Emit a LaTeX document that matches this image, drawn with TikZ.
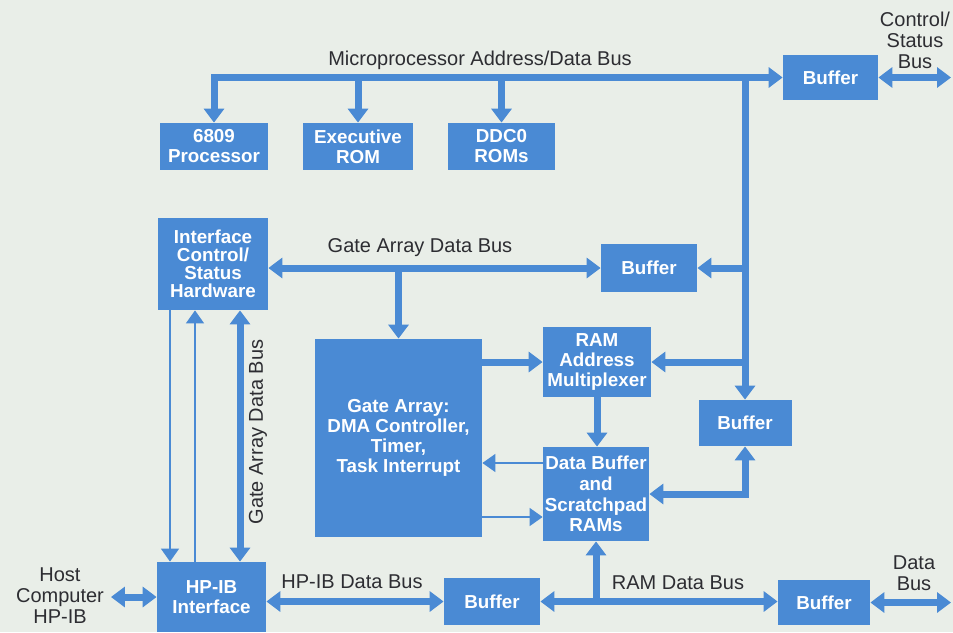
\documentclass[tikz,border=0pt]{standalone}
\usepackage{fontspec}
\setmainfont{Liberation Sans}
\usetikzlibrary{arrows.meta}
\definecolor{boxblue}{RGB}{74,138,212}
\definecolor{paper}{RGB}{233,238,232}
\definecolor{labelgray}{RGB}{45,45,50}

\begin{document}
\begin{tikzpicture}[x=0.5pt,y=-0.5pt]
  \tikzstyle{Block}=[fill=boxblue,text=white,align=center,inner sep=0pt,
                     font=\fontsize{9.4}{10}\selectfont\bfseries]
  \tikzstyle{Bus}=[draw=boxblue,line width=3.5pt,>={Triangle[width=10pt,length=7pt]}]
  \tikzstyle{Wire}=[draw=boxblue,line width=0.8pt,>={Triangle[width=9pt,length=6.5pt]}]
  \tikzstyle{BusLabel}=[text=labelgray,align=center,font=\fontsize{10}{10.5}\selectfont]

  \fill[paper] (0,0) rectangle (953,632);
  \useasboundingbox (0,0) rectangle (953,632);

  % blocks
  \node[Block,minimum width=54pt,minimum height=23.5pt] (proc) at (214,146.5) {6809\\Processor};
  \node[Block,minimum width=55pt,minimum height=23.5pt] (exrom) at (358,146.5) {Executive\\ROM};
  \node[Block,minimum width=53.5pt,minimum height=23.5pt] (ddc) at (501.5,146.5) {DDC0\\ROMs};
  \node[Block,minimum width=47.5pt,minimum height=22.5pt] (bufctl) at (830.5,77.5) {Buffer};
  \node[Block,minimum width=55pt,minimum height=46pt,
        font=\fontsize{9.4}{9}\selectfont\bfseries] (ifc) at (213,264) {Interface\\Control/\\Status\\Hardware};
  \node[Block,minimum width=48pt,minimum height=24pt] (bufga) at (649,268) {Buffer};
  \node[Block,minimum width=83.5pt,minimum height=99pt] (gate) at (398.5,438)
        {Gate Array:\\DMA Controller,\\Timer,\\Task Interrupt};
  \node[Block,minimum width=54pt,minimum height=35pt] (mux) at (597,362) {RAM\\Address\\Multiplexer};
  \node[Block,minimum width=46.5pt,minimum height=23pt] (bufr) at (745,423) {Buffer};
  \node[Block,minimum width=53pt,minimum height=47pt,
        font=\fontsize{9.4}{10.4}\selectfont\bfseries] (dbuf) at (596,494) {Data Buffer\\and\\Scratchpad\\RAMs};
  \node[Block,minimum width=54.5pt,minimum height=35pt] (hpib) at (211.5,597) {HP-IB\\Interface};
  \node[Block,minimum width=48pt,minimum height=23.5pt] (bufh) at (492,601.5) {Buffer};
  \node[Block,minimum width=46pt,minimum height=22.5pt] (bufd) at (824,602.5) {Buffer};

  % labels
  \node[BusLabel] (mpbus) at (480,60) {Microprocessor Address/Data Bus};
  \node[BusLabel] (csbus) at (915,40) {Control/\\Status\\Bus};
  \node[BusLabel] (gabus) at (420,248) {Gate Array Data Bus};
  \node[BusLabel,rotate=90] (gabus2) at (258,432) {Gate Array Data Bus};
  \node[BusLabel] (host) at (60,596) {Host\\Computer\\HP-IB};
  \node[BusLabel] (hpbus) at (352,582) {HP-IB Data Bus};
  \node[BusLabel] (rambus) at (678,583) {RAM Data Bus};
  \node[BusLabel] (dbus) at (914,573) {Data\\Bus};

  \coordinate (csend) at (951,77.5);
  \coordinate (dend) at (951,602.5);
  \coordinate (rowA) at (0,463);
  \coordinate (rowB) at (0,517);
  \coordinate (colA) at (170,0);
  \coordinate (colB) at (195,0);
  \coordinate (colC) at (240,0);

  % microprocessor bus
  \draw[Bus,<->] (proc.north) |- (bufctl.west);
  \draw[Bus,->] (exrom.north |- bufctl.west) -- (exrom.north);
  \draw[Bus,->] (ddc.north |- bufctl.west) -- (ddc.north);
  \draw[Bus,->] (bufr.north |- bufctl.west) -- (bufr.north);
  \draw[Bus,->] (bufr.north |- bufga.east) -- (bufga.east);
  \draw[Bus,->] (bufr.north |- mux.east) -- (mux.east);
  \draw[Bus,<->] (bufctl.east) -- (csend);

  % gate array bus
  \draw[Bus,<->] (ifc.east |- bufga.west) -- (bufga.west);
  \draw[Bus,->] (gate.north |- bufga.west) -- (gate.north);
  \draw[Bus,->] (gate.east |- mux.west) -- (mux.west);
  \draw[Wire,->] (dbuf.west |- rowA) -- (gate.east |- rowA);
  \draw[Wire,->] (gate.east |- rowB) -- (dbuf.west |- rowB);
  \draw[Bus,->] (mux.south) -- (mux.south |- dbuf.north);
  \draw[Bus,<->] (dbuf.east) -| (bufr.south);

  % interface lines
  \draw[Wire,->] (ifc.south -| colA) -- (hpib.north -| colA);
  \draw[Wire,->] (hpib.north -| colB) -- (ifc.south -| colB);
  \draw[Bus,<->] (ifc.south -| colC) -- (hpib.north -| colC);

  % bottom buses
  \draw[Bus,<->] (host.east |- hpib.west) -- (hpib.west);
  \draw[Bus,<->] (hpib.east |- bufh.west) -- (bufh.west);
  \draw[Bus,<->] (bufh.east) -- (bufd.west |- bufh.east);
  \draw[Bus,->] (dbuf.south |- bufh.east) -- (dbuf.south);
  \draw[Bus,<->] (bufd.east) -- (dend);

\end{tikzpicture}
\end{document}
